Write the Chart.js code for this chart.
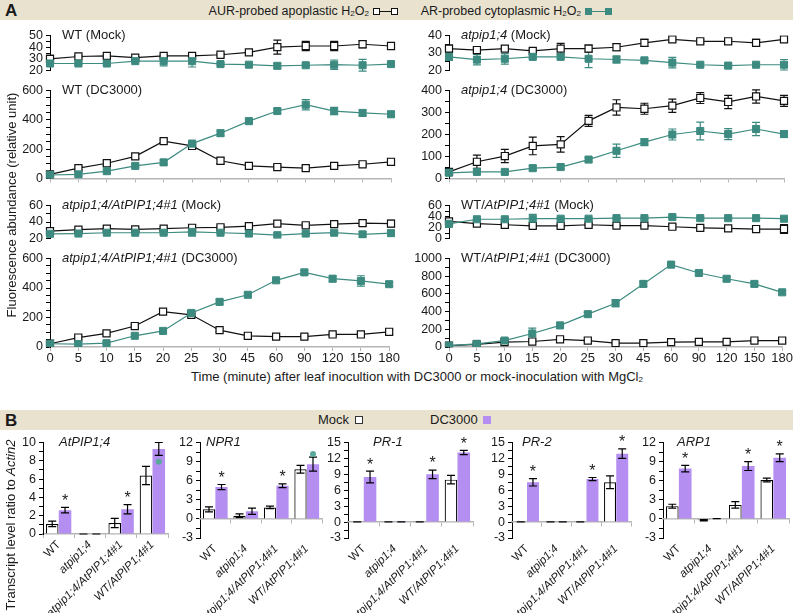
<!DOCTYPE html>
<html>
<head>
<meta charset="utf-8">
<script src="https://cdn.jsdelivr.net/npm/chart.js@4.4.1/dist/chart.umd.min.js"></script>
<style>
  body { margin: 0; background: #fff; font-family: "Liberation Sans", Arial, sans-serif; color: #1a1a1a; }
  #fig { position: relative; width: 793px; height: 613px; overflow: hidden; }
  .band { position: absolute; left: 0; width: 793px; height: 20px; background: #e9e2cf; }
  .txt { position: absolute; font-size: 13px; white-space: nowrap; line-height: 20px; }
  .leg { position: absolute; font-size: 12.5px; white-space: nowrap; line-height: 20px; text-align: right; }
  .big { position: absolute; font-size: 17px; font-weight: bold; line-height: 20px; }
  sub { font-size: 8px; vertical-align: -1px; line-height: 0; }
  .sq { position: absolute; box-sizing: border-box; }
  .rot { position: absolute; font-size: 13px; white-space: nowrap; transform: translate(-50%, -50%) rotate(-90deg); }
</style>
</head>
<body>
<div id="fig">
  <div class="band" style="top:0"></div>
  <div class="big" style="left:5px;top:1px">A</div>
  <div class="leg" style="right:424px;top:1px">AUR-probed apoplastic H<sub>2</sub>O<sub>2</sub></div>
  <div class="sq" style="left:373px;top:8px;width:7px;height:7px;border:1.2px solid #111;background:#fff"></div>
  <div class="sq" style="left:380px;top:11px;width:11px;height:1.2px;background:#111"></div>
  <div class="sq" style="left:391px;top:8px;width:7px;height:7px;border:1.2px solid #111;background:#fff"></div>
  <div class="leg" style="right:212px;top:1px">AR-probed cytoplasmic H<sub>2</sub>O<sub>2</sub></div>
  <div class="sq" style="left:585px;top:8px;width:7px;height:7px;background:#3d8b80"></div>
  <div class="sq" style="left:592px;top:11px;width:13px;height:1.2px;background:#3d8b80"></div>
  <div class="sq" style="left:605px;top:8px;width:7px;height:7px;background:#3d8b80"></div>

  <div class="band" style="top:410px"></div>
  <div class="big" style="left:5px;top:411px">B</div>
  <div class="txt" style="left:318px;top:410px">Mock</div>
  <div class="sq" style="left:355px;top:416px;width:8px;height:8px;border:1px solid #333;background:#fff"></div>
  <div class="txt" style="left:430px;top:410px">DC3000</div>
  <div class="sq" style="left:483px;top:416px;width:8px;height:8px;background:#b48ef0"></div>
</div>
<script>
// temps (minutes)
const times = ['0', '5', '10', '15', '20', '25', '30', '45', '60', '90', '120', '150', '180'];

// WT (Mock)
const wtMockAur = [30, 32, 32.5, 31, 32.5, 32.5, 33.5, 35.5, 40, 41, 41, 42.5, 41];
const wtMockAurErr = [3, 1, 1, 1, 1, 1, 1, 1, 6, 4, 4, 3, 1];
const wtMockAr = [26, 26, 26, 28, 28, 28, 25.5, 25, 24, 24.5, 25, 24.5, 25.5];
const wtMockArErr = [2, 1, 1, 1, 4, 5, 1, 1, 2, 1, 4, 5, 1];

// WT (DC3000)
const wtDcAur = [28, 71, 104, 151, 255, 222, 121, 86, 78, 71, 86, 97, 114];
const wtDcAurErr = [10, 10, 15, 15, 10, 10, 20, 15, 12, 15, 10, 12, 20];
const wtDcAr = [24, 28, 50, 86, 110, 238, 309, 391, 460, 503, 460, 447, 438];
const wtDcArErr = [10, 10, 10, 10, 15, 15, 20, 15, 15, 35, 25, 20, 20];

// atpip1;4 (Mock)
const mutMockAur = [32.5, 31.7, 32.5, 31.2, 32.5, 32.5, 33.3, 35.8, 37.8, 36.7, 36.7, 35.8, 37.8];
const mutMockAurErr = [2, 1, 1, 1, 3, 2, 2, 2, 1, 1, 1, 2, 1];
const mutMockAr = [27.8, 26.2, 26.7, 27.8, 27.8, 26.7, 26.3, 25.8, 24.5, 23.3, 22.8, 23.3, 23.3];
const mutMockArErr = [2, 3, 3, 1, 1, 5, 2, 1, 3, 1, 1, 1, 3];

// atpip1;4 (DC3000)
const mutDcAur = [30, 76, 102, 148, 155, 262, 323, 317, 331, 366, 348, 373, 353];
const mutDcAurErr = [15, 30, 30, 40, 35, 25, 35, 25, 30, 25, 30, 30, 25];
const mutDcAr = [26, 30, 30, 47, 52, 86, 126, 165, 200, 216, 202, 225, 202];
const mutDcArErr = [8, 8, 8, 10, 10, 10, 30, 15, 25, 40, 25, 30, 15];

// atpip1;4/AtPIP1;4#1 (Mock)
const compMockAur = [29, 30.7, 32, 31, 32, 33, 33.6, 35, 38, 36, 37.5, 38.6, 38];
const compMockAurErr = [2, 2, 2, 2, 2, 3, 2, 2, 3, 2, 2, 3, 4];
const compMockAr = [25.7, 26, 27, 27, 27, 28, 27, 26, 24, 26, 27, 25, 26.5];
const compMockArErr = [2, 1, 1, 1, 2, 5, 1, 1, 2, 1, 2, 3, 3];

// atpip1;4/AtPIP1;4#1 (DC3000)
const compDcAur = [22, 64, 92, 142, 240, 218, 114, 76, 70, 70, 85, 85, 103];
const compDcAurErr = [10, 10, 10, 10, 10, 10, 10, 10, 10, 10, 10, 10, 15];
const compDcAr = [22, 20, 26, 76, 109, 231, 306, 354, 452, 506, 463, 448, 426];
const compDcArErr = [10, 10, 10, 10, 10, 15, 15, 15, 10, 15, 20, 35, 15];

// WT/AtPIP1;4#1 (Mock)
const oxMockAur = [31, 27, 25, 23, 23, 25, 23.5, 23.5, 21.4, 19.3, 18.3, 17.2, 17.2];
const oxMockAurErr = [3, 2, 2, 2, 2, 2, 2, 2, 4, 2, 4, 2, 8];
const oxMockAr = [26.6, 35, 35, 36, 36, 36, 37, 37, 39, 37, 37, 37, 36];
const oxMockArErr = [3, 2, 2, 8, 2, 2, 2, 2, 2, 2, 2, 2, 2];

// WT/AtPIP1;4#1 (DC3000)
const oxDcAur = [15, 29, 55, 62, 87, 73, 44, 44, 55, 58, 58, 73, 73];
const oxDcAurErr = [10, 10, 10, 10, 15, 10, 10, 10, 10, 10, 10, 10, 20];
const oxDcAr = [15, 36, 73, 153, 244, 371, 495, 713, 931, 836, 771, 713, 618];
const oxDcArErr = [10, 10, 15, 60, 20, 20, 40, 30, 25, 25, 25, 25, 20];

// Panel B - genotypes
const genotypes = ['WT', 'atpip1;4', 'atpip1;4/AtPIP1;4#1', 'WT/AtPIP1;4#1'];

const pip14Mock = [1.1, 0, 1.2, 6.4];
const pip14MockErr = [0.3, 0, 0.5, 1.0];
const pip14Dc = [2.6, 0, 2.7, 9.3];
const pip14DcErr = [0.3, 0, 0.5, 0.7];
const pip14Stars = [true, false, true, false];
const pip14Dots = [null, null, null, 7.9];

const npr1Mock = [1.5, 0.5, 1.8, 7.8];
const npr1MockErr = [0.4, 0.3, 0.2, 0.6];
const npr1Dc = [5.0, 1.2, 5.2, 8.6];
const npr1DcErr = [0.4, 0.5, 0.3, 1.1];
const npr1Stars = [true, false, true, false];
const npr1Dots = [null, null, null, 10.2];

const pr1Mock = [0.05, 0.05, 0.05, 8.0];
const pr1MockErr = [0, 0, 0, 0.8];
const pr1Dc = [8.5, 0.05, 9.0, 13.1];
const pr1DcErr = [1.1, 0, 0.8, 0.4];
const pr1Stars = [true, false, true, true];

const pr2Mock = [0.05, 0.05, 0.05, 7.5];
const pr2MockErr = [0, 0, 0, 1.2];
const pr2Dc = [7.5, 0.05, 8.1, 12.9];
const pr2DcErr = [0.7, 0, 0.3, 0.9];
const pr2Stars = [true, false, true, true];

const arp1Mock = [2.0, -0.2, 2.2, 6.1];
const arp1MockErr = [0.3, 0.1, 0.5, 0.3];
const arp1Dc = [7.9, 0.05, 8.3, 9.6];
const arp1DcErr = [0.5, 0, 0.7, 0.6];
const arp1Stars = [true, false, true, true];

const TEAL = '#3d8b80';
const PURPLE = '#b48ef0';
const FONT = '"Liberation Sans", Arial, sans-serif';
const TXT = '#1a1a1a';

// barras de error, estrellas y puntos
const errorBars = {
    id: 'errorBars',
    beforeDatasetsDraw(chart, args, opts) {
        if (opts.layer === 'before') drawExtras(chart);
    },
    afterDatasetsDraw(chart, args, opts) {
        if (opts.layer !== 'before') drawExtras(chart);
    }
};

function drawExtras(chart) {
    const ctx = chart.ctx;
    const y = chart.scales.y;
    chart.data.datasets.forEach((ds, i) => {
        if (!ds.errors) return;
        const meta = chart.getDatasetMeta(i);
        ctx.save();
        ctx.strokeStyle = ds.errorColor || '#000';
        ctx.lineWidth = 1.2;
        meta.data.forEach((el, j) => {
            const v = ds.data[j];
            const e = ds.errors[j];
            if (v == null) return;
            const x = el.x;
            const t = y.getPixelForValue(v + e);
            const b = y.getPixelForValue(v - e);
            ctx.beginPath();
            ctx.moveTo(x, t); ctx.lineTo(x, b);
            ctx.moveTo(x - 4, t); ctx.lineTo(x + 4, t);
            ctx.moveTo(x - 4, b); ctx.lineTo(x + 4, b);
            ctx.stroke();
            if (ds.stars && ds.stars[j]) {
                ctx.fillStyle = '#1a1a1a';
                ctx.font = '16px ' + FONT;
                ctx.textAlign = 'center';
                ctx.textBaseline = 'top';
                ctx.fillText('*', x, t - 14);
            }
            if (ds.dots && ds.dots[j] != null) {
                ctx.fillStyle = '#5aa99a';
                ctx.beginPath();
                ctx.arc(x, y.getPixelForValue(ds.dots[j]), 3, 0, Math.PI * 2);
                ctx.fill();
            }
        });
        ctx.restore();
    });
}

// titulo de cada panel, con partes en cursiva
const panelTitle = {
    id: 'panelTitle',
    afterDraw(chart, args, opts) {
        if (!opts.parts) return;
        const ctx = chart.ctx;
        let x = chart.chartArea.left + opts.dx;
        const yy = chart.chartArea.top;
        ctx.save();
        ctx.fillStyle = TXT;
        ctx.textBaseline = 'middle';
        ctx.textAlign = 'left';
        opts.parts.forEach(p => {
            ctx.font = (p.it ? 'italic ' : '') + '13px ' + FONT;
            ctx.fillText(p.t, x, yy);
            x += ctx.measureText(p.t).width;
        });
        ctx.restore();
    }
};

Chart.register(errorBars, panelTitle);

function box(left, top, width, height) {
    const d = document.createElement('div');
    d.style.cssText = `position:absolute;left:${left}px;top:${top}px;width:${width}px;height:${height}px`;
    const c = document.createElement('canvas');
    d.appendChild(c);
    document.getElementById('fig').appendChild(d);
    return c;
}

function yScale(o) {
    return {
        min: o.min, max: o.max,
        grid: { drawOnChartArea: false, color: '#000', tickLength: 4 },
        border: { color: '#000', width: 1 },
        ticks: {
            stepSize: o.minor, padding: 3, color: TXT, autoSkip: false,
            font: { family: FONT, size: 12.5 },
            callback: v => (v % o.major === 0 ? v : '')
        },
        afterFit: s => { s.width = o.yw; }
    };
}

function lineChart(o) {
    const xh = o.xMode === 'labels' ? 22 : 8;
    const showLine = o.xMode !== 'none';
    const c = box(o.left, o.top - 8, o.width, o.bottom - o.top + 8 + xh);
    new Chart(c, {
        type: 'line',
        data: {
            labels: times,
            datasets: [
                {
                    data: o.ar, errors: o.arErr, errorColor: TEAL,
                    borderColor: TEAL, borderWidth: 1.2,
                    pointStyle: 'rect', pointRadius: 5, pointBorderWidth: 1,
                    pointBackgroundColor: TEAL, pointBorderColor: TEAL
                },
                {
                    data: o.aur, errors: o.aurErr, errorColor: '#111',
                    borderColor: '#111', borderWidth: 1.2,
                    pointStyle: 'rect', pointRadius: 5, pointBorderWidth: 1.2,
                    pointBackgroundColor: '#fff', pointBorderColor: '#111'
                }
            ]
        },
        options: {
            responsive: true,
            maintainAspectRatio: false,
            animation: false,
            layout: { padding: { top: 8, right: 9, left: 0, bottom: 0 } },
            plugins: {
                legend: { display: false },
                tooltip: { enabled: false },
                errorBars: { layer: 'before' },
                panelTitle: { parts: o.title, dx: 12 }
            },
            scales: {
                x: {
                    offset: false,
                    grid: { display: showLine, drawOnChartArea: false, color: '#b5b5b5', tickLength: 4 },
                    border: { display: showLine, color: '#b5b5b5', width: 1.5 },
                    ticks: {
                        display: o.xMode === 'labels', autoSkip: false, maxRotation: 0,
                        padding: 0, color: TXT, font: { family: FONT, size: 13 }
                    },
                    afterFit: s => { s.height = xh; }
                },
                y: yScale(o)
            }
        }
    });
}

function barChart(o) {
    const xh = 613 - o.bottom;
    const c = box(o.left, o.top - 8, o.width, 613 - (o.top - 8));
    const scales = {
        x: {
            position: 'bottom',
            grid: { display: !o.zeroAxis, drawOnChartArea: false, color: '#b5b5b5', tickLength: 4, offset: true },
            border: { display: !o.zeroAxis, color: '#b5b5b5', width: 1.5 },
            ticks: {
                autoSkip: false, minRotation: 45, maxRotation: 45, padding: 0, color: TXT,
                font: ctx => ({ family: FONT, size: 11.5, style: ctx.index === 0 ? 'normal' : 'italic' })
            },
            afterFit: s => { s.height = xh; }
        },
        y: yScale(o)
    };
    if (o.zeroAxis) {
        scales.x0 = {
            type: 'category',
            position: { y: 0 },
            grid: { drawOnChartArea: false, color: '#b5b5b5', tickLength: 4, offset: true },
            border: { color: '#b5b5b5', width: 1.5 },
            ticks: { display: false },
            afterFit: s => { s.height = 0; }
        };
    }
    new Chart(c, {
        type: 'bar',
        data: {
            labels: genotypes,
            datasets: [
                {
                    label: 'Mock', data: o.mock, errors: o.mockErr, xAxisID: 'x', yAxisID: 'y',
                    backgroundColor: '#fff', borderColor: '#000', borderWidth: 1.2,
                    categoryPercentage: 0.82, barPercentage: 0.98
                },
                {
                    label: 'DC3000', data: o.dc, errors: o.dcErr, stars: o.stars, dots: o.dots,
                    xAxisID: 'x', yAxisID: 'y',
                    backgroundColor: PURPLE, borderWidth: 0,
                    categoryPercentage: 0.82, barPercentage: 0.98
                }
            ]
        },
        options: {
            responsive: true,
            maintainAspectRatio: false,
            animation: false,
            layout: { padding: { top: 8, right: o.padR, left: 0, bottom: 0 } },
            plugins: {
                legend: { display: false },
                tooltip: { enabled: false },
                errorBars: { layer: 'after' },
                panelTitle: { parts: [{ t: o.title, it: true }], dx: o.tdx }
            },
            scales: scales
        }
    });
}

// Panel A, columna izquierda
lineChart({ left: 0, width: 400, yw: 50, top: 33, bottom: 73, min: 20, max: 50, major: 10, minor: 5,
    aur: wtMockAur, aurErr: wtMockAurErr, ar: wtMockAr, arErr: wtMockArErr, xMode: 'none',
    title: [{ t: 'WT (Mock)' }] });
lineChart({ left: 0, width: 400, yw: 50, top: 88, bottom: 181, min: 0, max: 600, major: 200, minor: 50,
    aur: wtDcAur, aurErr: wtDcAurErr, ar: wtDcAr, arErr: wtDcArErr, xMode: 'line',
    title: [{ t: 'WT (DC3000)' }] });
lineChart({ left: 0, width: 400, yw: 50, top: 203, bottom: 241, min: 20, max: 60, major: 20, minor: 10,
    aur: compMockAur, aurErr: compMockAurErr, ar: compMockAr, arErr: compMockArErr, xMode: 'none',
    title: [{ t: 'atpip1;4/AtPIP1;4#1', it: true }, { t: ' (Mock)' }] });
lineChart({ left: 0, width: 400, yw: 50, top: 256, bottom: 347, min: 0, max: 600, major: 200, minor: 50,
    aur: compDcAur, aurErr: compDcAurErr, ar: compDcAr, arErr: compDcArErr, xMode: 'labels',
    title: [{ t: 'atpip1;4/AtPIP1;4#1', it: true }, { t: ' (DC3000)' }] });

// Panel A, columna derecha
lineChart({ left: 398, width: 395, yw: 51, top: 33, bottom: 73, min: 20, max: 40, major: 10, minor: 5,
    aur: mutMockAur, aurErr: mutMockAurErr, ar: mutMockAr, arErr: mutMockArErr, xMode: 'none',
    title: [{ t: 'atpip1;4', it: true }, { t: ' (Mock)' }] });
lineChart({ left: 398, width: 395, yw: 51, top: 88, bottom: 181, min: 0, max: 400, major: 100, minor: 50,
    aur: mutDcAur, aurErr: mutDcAurErr, ar: mutDcAr, arErr: mutDcArErr, xMode: 'line',
    title: [{ t: 'atpip1;4', it: true }, { t: ' (DC3000)' }] });
lineChart({ left: 398, width: 395, yw: 51, top: 203, bottom: 241, min: 0, max: 60, major: 20, minor: 10,
    aur: oxMockAur, aurErr: oxMockAurErr, ar: oxMockAr, arErr: oxMockArErr, xMode: 'none',
    title: [{ t: 'WT/' }, { t: 'AtPIP1;4#1', it: true }, { t: ' (Mock)' }] });
lineChart({ left: 398, width: 395, yw: 51, top: 256, bottom: 347, min: 0, max: 1000, major: 200, minor: 100,
    aur: oxDcAur, aurErr: oxDcAurErr, ar: oxDcAr, arErr: oxDcArErr, xMode: 'labels',
    title: [{ t: 'WT/' }, { t: 'AtPIP1;4#1', it: true }, { t: ' (DC3000)' }] });

// Panel B
barChart({ left: 0, width: 174, yw: 43, padR: 6, top: 440, bottom: 534, min: 0, max: 10, major: 2, minor: 1,
    mock: pip14Mock, mockErr: pip14MockErr, dc: pip14Dc, dcErr: pip14DcErr, stars: pip14Stars, dots: pip14Dots,
    title: 'AtPIP1;4', tdx: 16, zeroAxis: false });
barChart({ left: 172, width: 156, yw: 28, padR: 6, top: 440, bottom: 538, min: -3, max: 12, major: 3, minor: 1.5,
    mock: npr1Mock, mockErr: npr1MockErr, dc: npr1Dc, dcErr: npr1DcErr, stars: npr1Stars, dots: npr1Dots,
    title: 'NPR1', tdx: 6, zeroAxis: true });
barChart({ left: 326, width: 153, yw: 22, padR: 6, top: 440, bottom: 538, min: -3, max: 15, major: 3, minor: 1.5,
    mock: pr1Mock, mockErr: pr1MockErr, dc: pr1Dc, dcErr: pr1DcErr, stars: pr1Stars,
    title: 'PR-1', tdx: 25, zeroAxis: true });
barChart({ left: 478, width: 159, yw: 34, padR: 6, top: 440, bottom: 538, min: -3, max: 15, major: 3, minor: 1.5,
    mock: pr2Mock, mockErr: pr2MockErr, dc: pr2Dc, dcErr: pr2DcErr, stars: pr2Stars,
    title: 'PR-2', tdx: 10, zeroAxis: true });
barChart({ left: 636, width: 157, yw: 27, padR: 4, top: 440, bottom: 538, min: -3, max: 12, major: 3, minor: 1.5,
    mock: arp1Mock, mockErr: arp1MockErr, dc: arp1Dc, dcErr: arp1DcErr, stars: arp1Stars,
    title: 'ARP1', tdx: 14, zeroAxis: true });

// textos de ejes
const fig = document.getElementById('fig');
function addText(html, css, cls) {
    const d = document.createElement('div');
    d.className = cls;
    d.style.cssText = css;
    d.innerHTML = html;
    fig.appendChild(d);
}
addText('Fluorescence abundance (relative unit)', 'left:11px;top:205px', 'rot');
addText('Transcript level ratio to <i>Actin2</i>', 'left:10px;top:525px', 'rot');
addText('Time (minute) after leaf inocultion with DC3000 or mock-inoculation with MgCl<sub>2</sub>',
    'left:417px;top:377px;transform:translate(-50%,-50%);line-height:16px', 'txt');
</script>
</body>
</html>
